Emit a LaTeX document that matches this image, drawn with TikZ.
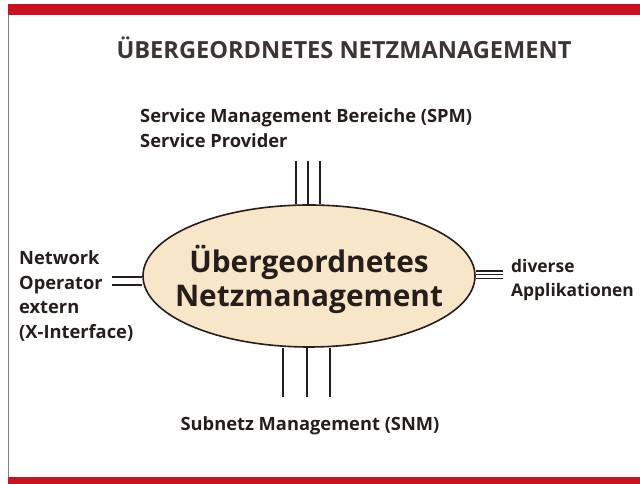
\documentclass[tikz,border=0pt]{standalone}
\usepackage{fontspec}
\setmainfont{Open Sans}
\usepackage{tikz}
\usetikzlibrary{shapes,positioning}
\definecolor{barred}{RGB}{200,18,32}
\definecolor{ovalfill}{RGB}{248,230,200}
\definecolor{ink}{RGB}{38,30,28}
\tikzset{x=1pt,y=1pt,
  label/.style={text=ink,font=\bfseries\fontsize{18.3}{24.5}\selectfont,inner sep=0pt},
  wire/.style={ink,line width=2pt}}

\begin{document}
\begin{tikzpicture}
  \useasboundingbox (0,0) rectangle (640,484);

  % rahmen
  \fill [barred] (8,469) rectangle (640,480);
  \fill [barred] (8,0) rectangle (640,7);
  \draw [gray,thin] (8.5,7) -- (8.5,469);

  \node [text=ink!90,font=\bfseries\fontsize{23.6}{28}\selectfont] (titel) at (344,436)
    {ÜBERGEORDNETES NETZMANAGEMENT};

  % anschluesse
  \coordinate (o1) at (296,323);
  \coordinate (o2) at (308,323);
  \coordinate (o3) at (320,323);
  \coordinate (u1) at (283,87);
  \coordinate (u2) at (307,87);
  \coordinate (u3) at (330,87);
  \coordinate (l1) at (112,207);
  \coordinate (l2) at (112,199);
  \coordinate (r1) at (503,213);
  \coordinate (r2) at (503,209.5);
  \coordinate (r3) at (503,205.5);

  \node [ellipse,draw=ink,line width=1.6pt,fill=ovalfill,
    minimum width=332,minimum height=142,inner sep=0pt] (netz) at (309,208) {};
  \node [text=ink,font=\bfseries\fontsize{29.8}{34}\selectfont,align=center]
    (netztext) at ([yshift=-3]netz.center) {Übergeordnetes\\Netzmanagement};

  \foreach \p in {o1,o2,o3} \draw [wire] (\p) -- (\p |- netz.north);
  \foreach \p in {u1,u2,u3} \draw [wire] (\p) -- (\p |- netz.south);
  \foreach \p in {l1,l2} \draw [wire] (\p) -- (\p -| netz.west);
  \foreach \p in {r1,r2,r3} \draw [wire,line width=1.6pt] (\p) -- (\p -| netz.east);

  \node [label,anchor=west,align=left] (spm) at (140,356)
    {Service Management Bereiche (SPM)\\Service Provider};
  \node [label,anchor=west,align=left] (xif) at (19,188)
    {Network\\Operator\\extern\\(X-Interface)};
  \node [label,anchor=west,align=left,font=\bfseries\fontsize{17.4}{24.5}\selectfont]
    (appl) at (511,204) {diverse\\Applikationen};
  \node [label] (snm) at (310,58) {Subnetz Management (SNM)};

\end{tikzpicture}
\end{document}
